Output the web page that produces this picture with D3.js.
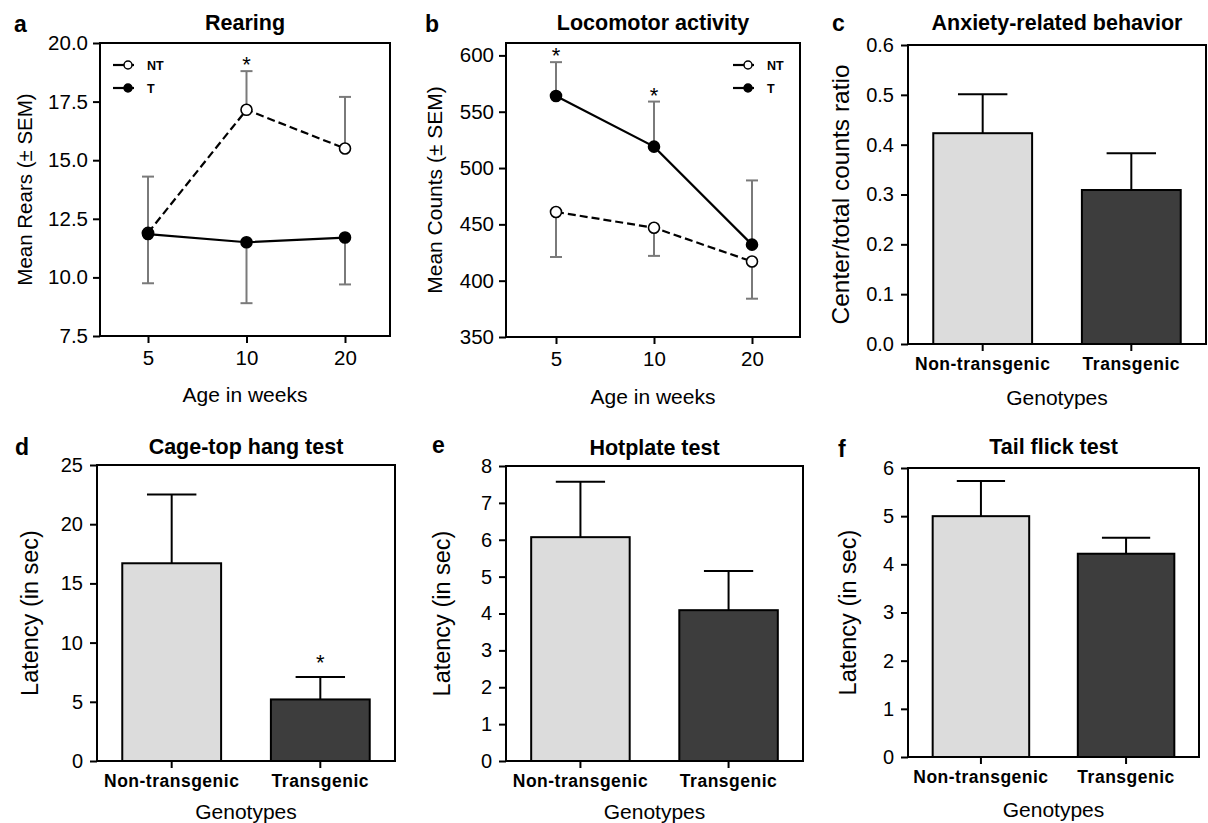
<!DOCTYPE html>
<html>
<head>
<meta charset="utf-8">
<script src="https://cdn.jsdelivr.net/npm/d3@7"></script>
<style>
  body { margin: 0; background: #fff; }
  svg { display: block; }
  text { font-family: 'Liberation Sans', Arial, sans-serif; fill: #000; }
</style>
</head>
<body>
<svg id="chart" width="1208" height="823"></svg>
<script>
// values
const weeks = ["5", "10", "20"];

const rearingNT = [11.9, 17.15, 15.5];
const rearingNTErr = [2.4, 1.65, 2.2];
const rearingT = [11.85, 11.5, 11.7];
const rearingTErr = [2.1, 2.6, 2.0];
const rearingStars = ["", "*", ""];
const rearingTicks = [7.5, 10, 12.5, 15, 17.5, 20];

const locoNT = [461, 447, 417];
const locoNTErr = [40, 25, 33];
const locoT = [564, 519, 432];
const locoTErr = [30, 40, 57];
const locoStars = ["*", "*", ""];
const locoTicks = [350, 400, 450, 500, 550, 600];

const genotypes = ["Non-transgenic", "Transgenic"];
const barColors = ["#dcdcdc", "#3d3d3d"];

const anxiety = [0.423, 0.309];
const anxietyErr = [0.078, 0.074];
const anxietyTicks = [0, 0.1, 0.2, 0.3, 0.4, 0.5, 0.6];

const hang = [16.7, 5.2];
const hangErr = [5.8, 1.9];
const hangStars = ["", "*"];
const hangTicks = [0, 5, 10, 15, 20, 25];

const hotplate = [6.07, 4.09];
const hotplateErr = [1.5, 1.06];
const hotplateTicks = [0, 1, 2, 3, 4, 5, 6, 7, 8];

const tailFlick = [5.0, 4.22];
const tailFlickErr = [0.73, 0.33];
const tailFlickTicks = [0, 1, 2, 3, 4, 5, 6];

const svg = d3.select("#chart");
svg.append("rect").attr("width", 1208).attr("height", 823).attr("fill", "#fff");

function styleAxis(sel, size) {
  sel.select(".domain").remove();
  sel.selectAll(".tick line").attr("stroke", "#000").attr("stroke-width", 2);
  sel.selectAll(".tick text").attr("font-size", size).attr("fill", "#111")
    .style("font-family", "'Liberation Sans', Arial, sans-serif");
}

function frame(g, box) {
  g.append("rect")
    .attr("x", box.l).attr("y", box.t)
    .attr("width", box.r - box.l).attr("height", box.b - box.t)
    .attr("fill", "none").attr("stroke", "#000").attr("stroke-width", 2);
}

function labels(g, cfg) {
  const box = cfg.box;
  g.append("text").attr("x", cfg.letter[1]).attr("y", cfg.letter[2])
    .attr("font-size", 23).attr("font-weight", "bold").text(cfg.letter[0]);
  g.append("text").attr("x", (box.l + box.r) / 2).attr("y", cfg.titleY)
    .attr("text-anchor", "middle").attr("font-size", 21.5).attr("font-weight", "bold")
    .text(cfg.title);
  g.append("text")
    .attr("transform", `translate(${cfg.yLabelX},${(box.t + box.b) / 2}) rotate(-90)`)
    .attr("text-anchor", "middle").attr("dy", "0.35em")
    .attr("font-size", cfg.yLabelSize).attr("fill", "#111").text(cfg.yLabel);
  g.append("text").attr("x", (box.l + box.r) / 2).attr("y", cfg.xLabelY)
    .attr("text-anchor", "middle").attr("font-size", 21).attr("fill", "#111").text(cfg.xLabel);
}

function linePanel(cfg) {
  const box = cfg.box;
  const g = svg.append("g");
  const x = d3.scalePoint().domain(weeks).range([box.l + cfg.padL, box.r - cfg.padR]);
  const y = d3.scaleLinear().domain(cfg.yDomain).range([box.b, box.t]);

  g.append("g").attr("transform", `translate(${box.l},0)`)
    .call(d3.axisLeft(y).tickValues(cfg.yTicks).tickFormat(cfg.fmt).tickSize(7).tickPadding(5))
    .call(styleAxis, 20.5);
  g.append("g").attr("transform", `translate(0,${box.b})`)
    .call(d3.axisBottom(x).tickSize(7).tickPadding(7))
    .call(styleAxis, 20.5);
  frame(g, box);

  const series = [
    { name: "NT", vals: cfg.nt, err: cfg.ntErr, other: cfg.t, fill: "#fff", dash: "8,4" },
    { name: "T", vals: cfg.t, err: cfg.tErr, other: cfg.nt, fill: "#000", dash: null }
  ];

  // error bars point away from the other group
  series.forEach(s => {
    const eb = g.append("g").attr("stroke", "#7a7a7a").attr("stroke-width", 2);
    s.vals.forEach((v, i) => {
      const dir = v >= s.other[i] ? 1 : -1;
      const end = y(v + dir * s.err[i]);
      const cx = x(weeks[i]);
      eb.append("line").attr("x1", cx).attr("x2", cx).attr("y1", y(v)).attr("y2", end);
      eb.append("line").attr("x1", cx - 6).attr("x2", cx + 6).attr("y1", end).attr("y2", end);
    });
  });

  const line = d3.line().x((d, i) => x(weeks[i])).y(d => y(d));
  series.forEach(s => {
    g.append("path").datum(s.vals).attr("d", line)
      .attr("fill", "none").attr("stroke", "#000").attr("stroke-width", 2.2)
      .attr("stroke-dasharray", s.dash);
  });
  series.forEach(s => {
    g.selectAll(null).data(s.vals).join("circle")
      .attr("cx", (d, i) => x(weeks[i])).attr("cy", d => y(d)).attr("r", 5.5)
      .attr("fill", s.fill).attr("stroke", "#000").attr("stroke-width", 1.6);
  });

  // significance marks over the upper error bar
  cfg.stars.forEach((st, i) => {
    if (!st) return;
    const top = Math.max(cfg.nt[i] + cfg.ntErr[i], cfg.t[i] + cfg.tErr[i]);
    g.append("text").attr("x", x(weeks[i])).attr("y", y(top) + 1)
      .attr("text-anchor", "middle").attr("font-size", 22).text(st);
  });

  // legend
  const lg = g.append("g").attr("transform", `translate(${cfg.legend[0]},${cfg.legend[1]})`);
  series.forEach((s, k) => {
    const row = lg.append("g").attr("transform", `translate(0,${k * 23})`);
    row.append("line").attr("x1", 0).attr("x2", 21).attr("stroke", "#000").attr("stroke-width", 2.2);
    row.append("circle").attr("cx", 15).attr("r", 4).attr("fill", s.fill)
      .attr("stroke", "#000").attr("stroke-width", 1.5);
    row.append("text").attr("x", 34).attr("dy", "0.36em").attr("font-size", 12.5)
      .attr("font-weight", "bold").text(s.name);
  });

  labels(g, cfg);
}

function barPanel(cfg) {
  const box = cfg.box;
  const g = svg.append("g");
  const x = d3.scaleBand().domain(genotypes).range([box.l, box.r])
    .paddingInner(0.335).paddingOuter(0.17);
  const y = d3.scaleLinear().domain([0, d3.max(cfg.ticks)]).range([box.b, box.t]);
  const bw = x.bandwidth();

  g.append("g").attr("transform", `translate(${box.l},0)`)
    .call(d3.axisLeft(y).tickValues(cfg.ticks).tickFormat(cfg.fmt).tickSize(7).tickPadding(cfg.tickPad))
    .call(styleAxis, cfg.tickSize);
  const xa = g.append("g").attr("transform", `translate(0,${box.b})`)
    .call(d3.axisBottom(x).tickSize(7).tickPadding(7))
    .call(styleAxis, 17.5);
  xa.selectAll(".tick text").attr("font-weight", "bold").attr("letter-spacing", "0.5px");

  // error bars (upper only)
  const eb = g.append("g").attr("stroke", "#000").attr("stroke-width", 2);
  cfg.vals.forEach((v, i) => {
    const cx = x(genotypes[i]) + bw / 2;
    const end = y(v + cfg.err[i]);
    eb.append("line").attr("x1", cx).attr("x2", cx).attr("y1", y(v)).attr("y2", end);
    eb.append("line").attr("x1", cx - bw / 4).attr("x2", cx + bw / 4).attr("y1", end).attr("y2", end);
  });

  g.selectAll(null).data(cfg.vals).join("rect")
    .attr("x", (d, i) => x(genotypes[i])).attr("width", bw)
    .attr("y", d => y(d)).attr("height", d => y(0) - y(d))
    .attr("fill", (d, i) => barColors[i]).attr("stroke", "#000").attr("stroke-width", 2);

  frame(g, box);

  (cfg.stars || []).forEach((st, i) => {
    if (!st) return;
    g.append("text").attr("x", x(genotypes[i]) + bw / 2).attr("y", y(cfg.vals[i] + cfg.err[i]) - 7)
      .attr("text-anchor", "middle").attr("font-size", 22).text(st);
  });

  labels(g, cfg);
}

linePanel({
  box: { l: 100, t: 43, r: 390, b: 336 }, padL: 48, padR: 45,
  yDomain: [7.5, 20], yTicks: rearingTicks, fmt: d3.format(".1f"),
  nt: rearingNT, ntErr: rearingNTErr, t: rearingT, tErr: rearingTErr, stars: rearingStars,
  legend: [113, 65], letter: ["a", 14, 32], title: "Rearing", titleY: 30,
  yLabel: "Mean Rears (\u00b1 SEM)", yLabelX: 25, yLabelSize: 20.5,
  xLabel: "Age in weeks", xLabelY: 402
});

linePanel({
  box: { l: 506, t: 43, r: 800, b: 337 }, padL: 50, padR: 48,
  yDomain: [350, 611], yTicks: locoTicks, fmt: d3.format("d"),
  nt: locoNT, ntErr: locoNTErr, t: locoT, tErr: locoTErr, stars: locoStars,
  legend: [733, 65], letter: ["b", 425, 32], title: "Locomotor activity", titleY: 30,
  yLabel: "Mean Counts (\u00b1 SEM)", yLabelX: 435, yLabelSize: 21,
  xLabel: "Age in weeks", xLabelY: 404
});

barPanel({
  box: { l: 908, t: 45, r: 1206, b: 344 }, ticks: anxietyTicks, fmt: d3.format(".1f"),
  tickSize: 20, tickPad: 7,
  vals: anxiety, err: anxietyErr,
  letter: ["c", 832, 31], title: "Anxiety-related behavior", titleY: 30,
  yLabel: "Center/total counts ratio", yLabelX: 840, yLabelSize: 24.5,
  xLabel: "Genotypes", xLabelY: 405
});

barPanel({
  box: { l: 97, t: 465, r: 395, b: 761 }, ticks: hangTicks, fmt: d3.format("d"),
  tickSize: 20, tickPad: 7,
  vals: hang, err: hangErr, stars: hangStars,
  letter: ["d", 15, 455], title: "Cage-top hang test", titleY: 454,
  yLabel: "Latency (in sec)", yLabelX: 30, yLabelSize: 23.5,
  xLabel: "Genotypes", xLabelY: 819
});

barPanel({
  box: { l: 506, t: 466, r: 803, b: 761 }, ticks: hotplateTicks, fmt: d3.format("d"),
  tickSize: 20, tickPad: 7,
  vals: hotplate, err: hotplateErr,
  letter: ["e", 432, 453], title: "Hotplate test", titleY: 455,
  yLabel: "Latency (in sec)", yLabelX: 442, yLabelSize: 23.5,
  xLabel: "Genotypes", xLabelY: 819
});

barPanel({
  box: { l: 908, t: 468, r: 1199, b: 757 }, ticks: tailFlickTicks, fmt: d3.format("d"),
  tickSize: 20, tickPad: 7,
  vals: tailFlick, err: tailFlickErr,
  letter: ["f", 838, 457], title: "Tail flick test", titleY: 454,
  yLabel: "Latency (in sec)", yLabelX: 848, yLabelSize: 23.5,
  xLabel: "Genotypes", xLabelY: 817
});
</script>
</body>
</html>
